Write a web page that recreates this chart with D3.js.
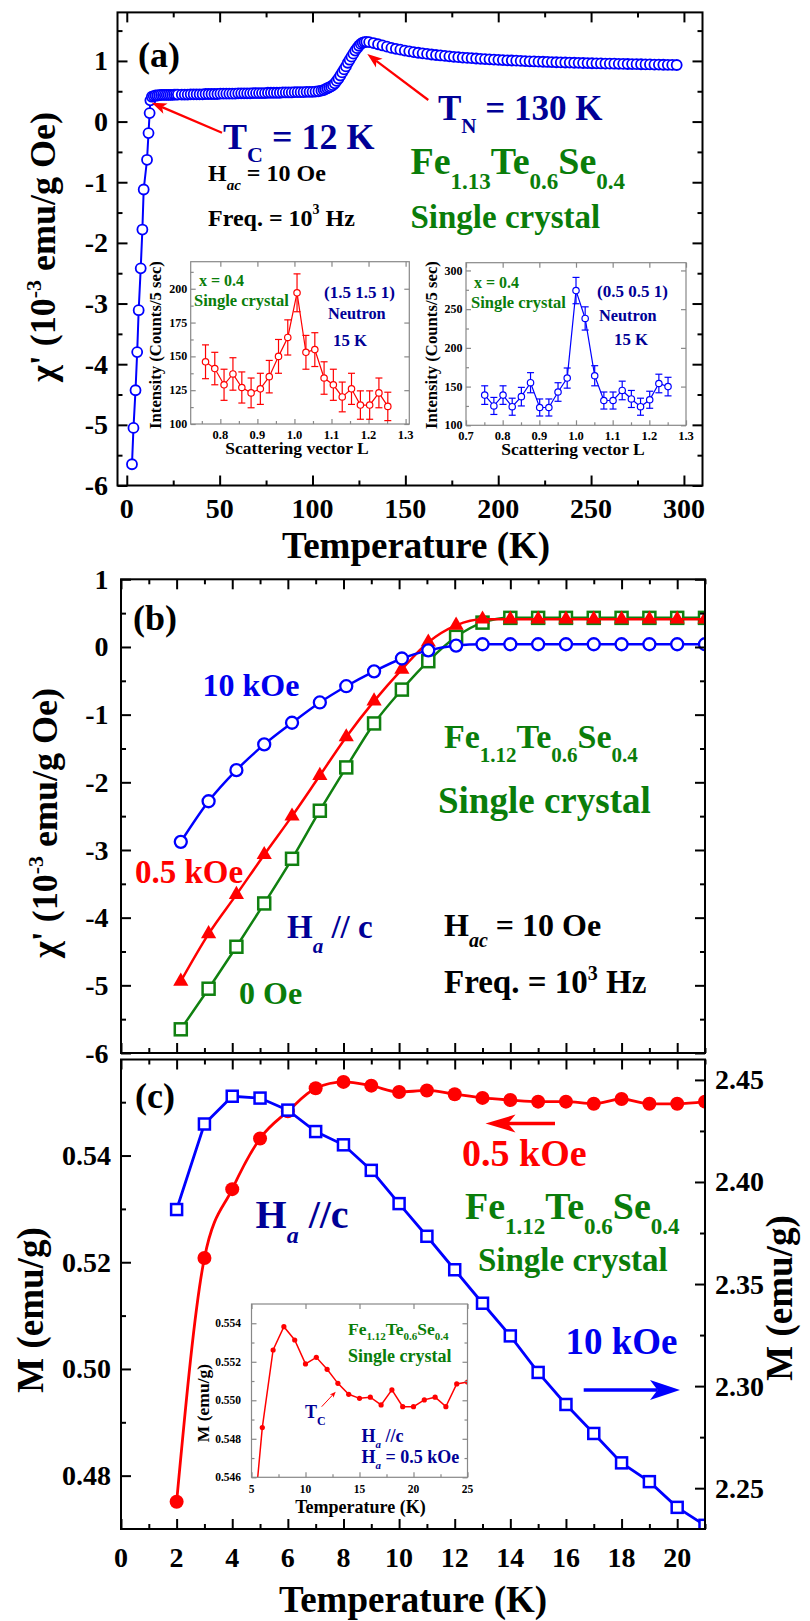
<!DOCTYPE html>
<html><head><meta charset="utf-8">
<script src="https://cdn.jsdelivr.net/npm/d3@7"></script>
</head>
<body style="margin:0;background:#fff"><svg id="c" width="810" height="1621"></svg>
<script>
// ---------------- DATA ----------------
// Panel (a): chi' vs T
const aTempLow = [2.8,3.6,4.7,5.6,6.4,7.5,8.4,9.1,10.9,11.7,12.3,12.7];
const aChiLow  = [-5.65,-5.05,-4.43,-3.8,-3.11,-2.42,-1.78,-1.12,-0.63,-0.19,0.14,0.35];
const aTempDense = [13.5,14.5,15.5,16.5,17.5,18.5,19.5,20.5,21.5,22.5,23.5,24.5,25.5,26.5,27.5];
const aChiDense  = [0.41,0.42,0.43,0.43,0.435,0.44,0.44,0.44,0.44,0.44,0.44,0.44,0.445,0.445,0.445];
const aTempMid = [29.6,31.2,32.8,34.4,36.0,37.6,39.2,40.8,
  42.4,44.0,45.6,47.2,48.8,50.4,52.0,53.6,
  55.2,56.8,58.4,60.0,61.6,63.2,64.8,66.4,
  68.0,69.6,71.2,72.8,74.4,76.0,77.6,79.2,
  80.8,82.4,84.0,85.6,87.2,88.8,90.4,92.0,
  93.6,95.2,96.8,98.4,100.0,101.6,103.2,104.8];
const aChiMid = [0.445,0.445,0.445,0.450,0.450,0.450,0.450,0.450,
  0.455,0.455,0.455,0.455,0.455,0.460,0.460,0.460,
  0.460,0.460,0.460,0.465,0.465,0.465,0.465,0.465,
  0.470,0.470,0.470,0.470,0.470,0.475,0.475,0.475,
  0.475,0.475,0.480,0.480,0.480,0.480,0.485,0.485,
  0.485,0.485,0.490,0.490,0.490,0.495,0.500,0.510];
const aTempRise = [106,107,108,109,110,111,112,113,
  114,115,116,117,118,119,120,121,
  122,123,124,125,126,127,128,129];
const aChiRise = [0.52,0.535,0.55,0.565,0.58,0.60,0.63,0.67,
  0.71,0.76,0.81,0.86,0.91,0.97,1.02,1.07,
  1.12,1.17,1.21,1.25,1.28,1.30,1.31,1.315];
const aTempHigh = [130.5,132.9,135.3,137.7,140.1,142.5,144.9,147.3,149.7,152.1,
  154.5,156.9,159.3,161.7,164.1,166.5,168.9,171.3,173.7,176.1,
  178.5,180.9,183.3,185.7,188.1,190.5,192.9,195.3,197.7,200.1,
  202.5,204.9,207.3,209.7,212.1,214.5,216.9,219.3,221.7,224.1,
  226.5,228.9,231.3,233.7,236.1,238.5,240.9,243.3,245.7,248.1,
  250.5,252.9,255.3,257.7,260.1,262.5,264.9,267.3,269.7,272.1,
  274.5,276.9,279.3,281.7,284.1,286.5,288.9,291.3,293.7,296.1];
const aChiHigh = [1.31,1.295,1.275,1.255,1.235,1.215,1.2,1.185,1.17,1.158,
  1.146,1.135,1.125,1.115,1.106,1.098,1.09,1.082,1.075,1.068,
  1.062,1.056,1.05,1.045,1.04,1.035,1.03,1.026,1.022,1.018,
  1.014,1.01,1.007,1.004,1.0,0.997,0.994,0.991,0.988,0.986,
  0.983,0.981,0.978,0.976,0.974,0.972,0.97,0.968,0.966,0.964,
  0.962,0.96,0.958,0.957,0.955,0.954,0.952,0.951,0.949,0.948,
  0.946,0.945,0.943,0.942,0.94,0.939,0.937,0.936,0.934,0.933];
const aXTicks = [0,50,100,150,200,250,300];
const aYTicks = [-6,-5,-4,-3,-2,-1,0,1];

// Inset (a) left: (1.5 1.5 1)
const in1L = [0.76,0.785,0.81,0.834,0.858,0.883,0.908,0.932,0.957,0.982,1.007,1.031,1.055,1.08,1.105,1.129,1.154,1.178,1.203,1.228,1.252];
const in1I = [146,141,129,137,127,123,126,135,150,164,197,153,155,134,129,120,126,114,114,123,113];
const in1E = [12.5,12,11.5,12,11.5,11,11.5,12,12.5,13,14,12.5,12.5,12,11.5,11,11.5,10.5,10.5,11,10.5];
const in1XTicks = [0.8,0.9,1.0,1.1,1.2,1.3];
const in1YTicks = [100,125,150,175,200];
// Inset (a) right: (0.5 0.5 1)
const in2L = [0.751,0.776,0.801,0.826,0.851,0.876,0.901,0.926,0.951,0.976,1.0,1.025,1.051,1.076,1.101,1.126,1.151,1.176,1.201,1.226,1.251];
const in2I = [139,125,139,124,137,155,123,123,143,161,274,238,164,132,132,145,134,124,133,154,150];
const in2E = [12,11,12,11,12,13,11,11,12,13,17,15,13,11,11,12,11,11,11,12,12];
const in2XTicks = [0.7,0.8,0.9,1.0,1.1,1.2,1.3];
const in2YTicks = [100,150,200,250,300];

// Panel (b)
const bTemp = [2.15,3.15,4.15,5.15,6.15,7.15,8.1,9.1,10.1,11.05,12.05,13,14,15,16,17,18,19,20,21];
const b10kOe = [-2.88,-2.28,-1.82,-1.44,-1.12,-0.82,-0.58,-0.36,-0.17,-0.05,0.02,0.04,0.04,0.04,0.04,0.04,0.04,0.04,0.04,0.04];
const b05kOe = [-4.94,-4.24,-3.66,-3.07,-2.5,-1.9,-1.33,-0.8,-0.33,0.07,0.32,0.41,0.41,0.41,0.41,0.41,0.41,0.41,0.41,0.41];
const b0Oe   = [-5.65,-5.05,-4.43,-3.79,-3.13,-2.42,-1.78,-1.13,-0.63,-0.21,0.15,0.36,0.43,0.43,0.43,0.43,0.43,0.43,0.43,0.43];
const bYTicks = [-6,-5,-4,-3,-2,-1,0,1];

// Panel (c)
const cTemp = [2,3,4,5,6,7,8,9,10,11,12,13,14,15,16,17,18,19,20,21];
const cM05kOe = [0.4751,0.5208,0.5337,0.5432,0.5483,0.5526,0.5538,0.5531,0.5519,0.5522,0.5515,0.5508,0.5504,0.5501,0.5501,0.5497,0.5506,0.5497,0.5497,0.5501];
const cM10kOe = [2.3865,2.4284,2.4420,2.4411,2.4352,2.4247,2.4182,2.4057,2.3894,2.3734,2.3570,2.3406,2.3246,2.3067,2.2910,2.2768,2.2624,2.2532,2.2406,2.2318];
const cXTicks = [0,2,4,6,8,10,12,14,16,18,20];
const cYLeftTicks = [0.48,0.50,0.52,0.54];
const cYRightTicks = [2.25,2.30,2.35,2.40,2.45];
// Inset (c)
const icTemp = [5,6,7,8,9,10,11,12,13,14,15,16,17,18,19,20,21,22,23,24,25];
const icM = [0.5425,0.54858,0.55261,0.55382,0.55313,0.55189,0.55223,0.55161,0.55088,0.55031,0.5501,0.55016,0.54976,0.55054,0.54967,0.54967,0.55002,0.55016,0.54967,0.55085,0.55095];
const icXTicks = [5,10,15,20,25];
const icYTicks = [0.546,0.548,0.550,0.552,0.554];

// ---------------- HELPERS ----------------
const FONT = '"Liberation Serif", "Times New Roman", Tinos, serif';
const svg = d3.select("#c").style("font-family",FONT).style("font-weight","bold");
const BLUE="#0000ff", RED="#ff0000", GREEN="#0a7d0a", NAVY="#000096", DATAGREEN="#108010";

function txt(g){ return g.append("text").style("font-family",FONT).style("font-weight","bold").style("white-space","pre"); }
function frame(g,x0,x1,y0,y1,color,w){
  g.append("rect").attr("x",x0).attr("y",y0).attr("width",x1-x0).attr("height",y1-y0)
   .attr("fill","none").attr("stroke",color).attr("stroke-width",w);
}
function ticks(g,axisFn,scale,tx,ty,values,len,color,w){
  const ax = axisFn(scale).tickValues(values).tickSize(-len).tickFormat("");
  const gg = g.append("g").attr("transform",`translate(${tx},${ty})`).call(ax);
  gg.select(".domain").remove();
  gg.selectAll("text").remove();
  gg.selectAll("line").attr("stroke",color).attr("stroke-width",w);
}
function xLabels(g,scale,values,y,size,fmt){
  values.forEach(v=>txt(g).attr("x",scale(v)).attr("y",y).attr("text-anchor","middle")
    .style("font-size",size+"px").text(fmt(v)));
}
function yLabels(g,scale,values,x,size,fmt,anchor){
  values.forEach(v=>txt(g).attr("x",x).attr("y",scale(v)+0.34*size).attr("text-anchor",anchor)
    .style("font-size",size+"px").text(fmt(v)));
}
function rich(g,x,y,parts,size,fill,opt){
  opt = opt||{};
  const t = txt(g).attr("fill",fill).style("font-size",size+"px");
  if(opt.rotate){ t.attr("transform",`translate(${x},${y}) rotate(-90)`).attr("text-anchor","middle"); }
  else { t.attr("x",x).attr("y",y); if(opt.anchor) t.attr("text-anchor",opt.anchor); }
  let cur=0;
  parts.forEach(p=>{
    const s=t.append("tspan").text(p.t);
    let off=0, fs=size;
    if(p.sub!==undefined){off=p.sub; fs=p.fs;}
    if(p.sup!==undefined){off=-p.sup; fs=p.fs;}
    s.attr("dy",off-cur).style("font-size",fs+"px");
    if(p.it) s.style("font-style","italic");
    cur=off;
  });
  return t;
}
function arrow(g,x1,y1,x2,y2,color,w,hl,hw){
  const dx=x2-x1, dy=y2-y1, L=Math.hypot(dx,dy), ux=dx/L, uy=dy/L, px=-uy, py=ux;
  const bx=x2-ux*hl, by=y2-uy*hl, nx=x2-ux*hl*0.75, ny=y2-uy*hl*0.75;
  g.append("line").attr("x1",x1).attr("y1",y1).attr("x2",nx).attr("y2",ny).attr("stroke",color).attr("stroke-width",w);
  g.append("path").attr("d",`M${x2},${y2}L${bx+px*hw},${by+py*hw}L${nx},${ny}L${bx-px*hw},${by-py*hw}Z`).attr("fill",color);
}
const fmt1 = d=>String(d);

// ---------------- PANEL (a) ----------------
{
  const g = svg.append("g");
  const x = d3.scaleLinear([-5,310],[117.5,702.5]);
  const y = d3.scaleLinear([-6,1.8],[485.5,12.4]);
  const T = aTempLow.concat(aTempDense,aTempMid,aTempRise,aTempHigh);
  const C = aChiLow.concat(aChiDense,aChiMid,aChiRise,aChiHigh);
  const pts = T.map((t,i)=>[t,C[i]]);
  g.append("path").attr("d",d3.line().x(d=>x(d[0])).y(d=>y(d[1]))(pts))
    .attr("fill","none").attr("stroke",BLUE).attr("stroke-width",2);
  g.selectAll("circle.a").data(pts).join("circle").attr("cx",d=>x(d[0])).attr("cy",d=>y(d[1])).attr("r",5)
    .attr("fill","#fff").attr("stroke",BLUE).attr("stroke-width",1.8);
  frame(g,117.5,702.5,12.4,485.5,"#000",2);
  const xMinor=[25,75,125,175,225,275], yMinor=[-5.5,-4.5,-3.5,-2.5,-1.5,-0.5,0.5,1.5];
  ticks(g,d3.axisBottom,x,0,485.5,aXTicks,10,"#000",2);
  ticks(g,d3.axisBottom,x,0,485.5,xMinor,5,"#000",2);
  ticks(g,d3.axisTop,x,0,12.4,aXTicks,10,"#000",2);
  ticks(g,d3.axisTop,x,0,12.4,xMinor,5,"#000",2);
  ticks(g,d3.axisLeft,y,117.5,0,aYTicks,10,"#000",2);
  ticks(g,d3.axisLeft,y,117.5,0,yMinor,5,"#000",2);
  ticks(g,d3.axisRight,y,702.5,0,aYTicks,10,"#000",2);
  ticks(g,d3.axisRight,y,702.5,0,yMinor,5,"#000",2);
  xLabels(g,x,aXTicks,518,28,fmt1);
  yLabels(g,y,aYTicks,108,28,fmt1,"end");
  rich(g,416,558,[{t:"Temperature (K)"}],37,"#000",{anchor:"middle"});
  rich(g,55,247,[{t:"χ' (10"},{t:"-3",sup:14,fs:22},{t:" emu/g Oe)"}],36,"#000",{rotate:true});

  rich(g,138,67,[{t:"(a)"}],36,"#000");
  rich(g,223,149,[{t:"T"},{t:"C",sub:12.5,fs:22},{t:" = 12 K"}],36,NAVY);
  rich(g,438,120,[{t:"T"},{t:"N",sub:13,fs:21},{t:" = 130 K"}],35,NAVY);
  rich(g,208,181,[{t:"H"},{t:"ac",sub:9,fs:15,it:true},{t:" = 10 Oe"}],24,"#000");
  rich(g,208,225.5,[{t:"Freq. = 10"},{t:"3",sup:12,fs:14},{t:" Hz"}],24,"#000");
  rich(g,410.5,174,[{t:"Fe"},{t:"1.13",sub:15,fs:23},{t:"Te"},{t:"0.6",sub:15,fs:23},{t:"Se"},{t:"0.4",sub:15,fs:23}],38,GREEN);
  rich(g,410.5,228,[{t:"Single crystal"}],33,GREEN);
  arrow(g,222,132.7,151.7,102.7,RED,2.2,15,5.5);
  arrow(g,428.3,100,367.3,54,RED,2.2,15,5.5);

  // insets
  function inset(cfg){
    const gi = g.append("g");
    const xi = d3.scaleLinear(cfg.xd,[cfg.x0,cfg.x1]);
    const yi = d3.scaleLinear(cfg.yd,[cfg.y1,cfg.y0]);
    gi.append("rect").attr("x",cfg.x0).attr("y",cfg.y0).attr("width",cfg.x1-cfg.x0).attr("height",cfg.y1-cfg.y0).attr("fill","#fff");
    frame(gi,cfg.x0,cfg.x1,cfg.y0,cfg.y1,"#888",1.2);
    ticks(gi,d3.axisBottom,xi,0,cfg.y1,cfg.xt,5,"#888",1.2);
    ticks(gi,d3.axisBottom,xi,0,cfg.y1,cfg.xm,3,"#888",1.2);
    ticks(gi,d3.axisTop,xi,0,cfg.y0,cfg.xt,5,"#888",1.2);
    ticks(gi,d3.axisLeft,yi,cfg.x0,0,cfg.yt,5,"#888",1.2);
    ticks(gi,d3.axisLeft,yi,cfg.x0,0,cfg.ym,3,"#888",1.2);
    ticks(gi,d3.axisRight,yi,cfg.x1,0,cfg.yt,5,"#888",1.2);
    xLabels(gi,xi,cfg.xt,cfg.y1+14.5,12.5,d=>d.toFixed(1));
    yLabels(gi,yi,cfg.yt,cfg.x0-3.5,12,fmt1,"end");
    rich(gi,(cfg.x0+cfg.x1)/2-3,cfg.y1+30,[{t:"Scattering vector L"}],17.5,"#000",{anchor:"middle"});
    rich(gi,cfg.tx,345,[{t:"Intensity (Counts/5 sec)"}],16.7,"#000",{rotate:true});
    const P = cfg.L.map((l,i)=>[l,cfg.I[i],cfg.E[i]]);
    gi.selectAll("g.eb").data(P).join("g").each(function(d){
      const s=d3.select(this), cx=xi(d[0]);
      s.append("line").attr("x1",cx).attr("x2",cx).attr("y1",yi(d[1]-d[2])).attr("y2",yi(d[1]+d[2])).attr("stroke",cfg.c).attr("stroke-width",1.2);
      [d[1]-d[2],d[1]+d[2]].forEach(v=>s.append("line").attr("x1",cx-3.5).attr("x2",cx+3.5).attr("y1",yi(v)).attr("y2",yi(v)).attr("stroke",cfg.c).attr("stroke-width",1.2));
    });
    gi.append("path").attr("d",d3.line().x(d=>xi(d[0])).y(d=>yi(d[1]))(P)).attr("fill","none").attr("stroke",cfg.c).attr("stroke-width",1.2);
    gi.selectAll("circle").data(P).join("circle").attr("cx",d=>xi(d[0])).attr("cy",d=>yi(d[1])).attr("r",3.2)
      .attr("fill","#fff").attr("stroke",cfg.c).attr("stroke-width",1.2);
    return gi;
  }
  const g1 = inset({x0:190.7,x1:409.3,y0:261.7,y1:424,xd:[0.72,1.31],yd:[100,220],xt:in1XTicks,xm:[0.75,0.85,0.95,1.05,1.15,1.25],
    yt:in1YTicks,ym:[112.5,137.5,162.5,187.5,212.5],L:in1L,I:in1I,E:in1E,c:RED,tx:161});
  rich(g1,199,285.5,[{t:"x = 0.4"}],16,GREEN);
  rich(g1,194,306,[{t:"Single crystal"}],16.5,GREEN);
  rich(g1,324,298,[{t:"(1.5 1.5 1)"}],17,NAVY);
  rich(g1,328,318.5,[{t:"Neutron"}],16.3,NAVY);
  rich(g1,333,346,[{t:"15 K"}],16.8,NAVY);
  const g2 = inset({x0:466,x1:686,y0:262.7,y1:425.3,xd:[0.7,1.3],yd:[100,310],xt:in2XTicks,xm:[0.75,0.85,0.95,1.05,1.15,1.25],
    yt:in2YTicks,ym:[125,175,225,275],L:in2L,I:in2I,E:in2E,c:BLUE,tx:437});
  rich(g2,474,287.5,[{t:"x = 0.4"}],16,GREEN);
  rich(g2,471,308,[{t:"Single crystal"}],16.5,GREEN);
  rich(g2,597,297,[{t:"(0.5 0.5 1)"}],17,NAVY);
  rich(g2,599,321,[{t:"Neutron"}],16.3,NAVY);
  rich(g2,614,344.5,[{t:"15 K"}],16.8,NAVY);
}

// ---------------- PANEL (b) ----------------
{
  const g = svg.append("g");
  const x = d3.scaleLinear([0,21],[121,705]);
  const y = d3.scaleLinear([-6,1],[1053,579.3]);
  svg.append("clipPath").attr("id","clipB").append("rect").attr("x",121).attr("y",579.3).attr("width",584).attr("height",473.7);
  const gd = g.append("g").attr("clip-path","url(#clipB)");
  const line = d3.line().curve(d3.curveMonotoneX).x(d=>x(d[0])).y(d=>y(d[1]));
  const P0 = bTemp.map((t,i)=>[t,b0Oe[i]]), P05 = bTemp.map((t,i)=>[t,b05kOe[i]]), P10 = bTemp.map((t,i)=>[t,b10kOe[i]]);
  gd.append("path").attr("d",line(P0)).attr("fill","none").attr("stroke",DATAGREEN).attr("stroke-width",2.5);
  gd.selectAll("rect.s").data(P0).join("rect").attr("x",d=>x(d[0])-6).attr("y",d=>y(d[1])-6).attr("width",12).attr("height",12)
    .attr("fill","#fff").attr("stroke",DATAGREEN).attr("stroke-width",2.5);
  gd.append("path").attr("d",line(P05)).attr("fill","none").attr("stroke",RED).attr("stroke-width",2.5);
  gd.selectAll("path.t").data(P05).join("path").attr("transform",d=>`translate(${x(d[0])},${y(d[1])})`)
    .attr("d",d3.symbol(d3.symbolTriangle,100)()).attr("fill",RED);
  gd.append("path").attr("d",line(P10)).attr("fill","none").attr("stroke",BLUE).attr("stroke-width",2.5);
  gd.selectAll("circle.c").data(P10).join("circle").attr("cx",d=>x(d[0])).attr("cy",d=>y(d[1])).attr("r",6)
    .attr("fill","#fff").attr("stroke",BLUE).attr("stroke-width",2.3);
  frame(g,121,705,579.3,1053,"#000",2);
  const xMinor=[1,3,5,7,9,11,13,15,17,19,21], yMinor=[-5.5,-4.5,-3.5,-2.5,-1.5,-0.5,0.5];
  ticks(g,d3.axisBottom,x,0,1053,cXTicks,10,"#000",2);
  ticks(g,d3.axisBottom,x,0,1053,xMinor,5,"#000",2);
  ticks(g,d3.axisTop,x,0,579.3,cXTicks,10,"#000",2);
  ticks(g,d3.axisTop,x,0,579.3,xMinor,5,"#000",2);
  ticks(g,d3.axisLeft,y,121,0,bYTicks,10,"#000",2);
  ticks(g,d3.axisLeft,y,121,0,yMinor,5,"#000",2);
  ticks(g,d3.axisRight,y,705,0,bYTicks,10,"#000",2);
  ticks(g,d3.axisRight,y,705,0,yMinor,5,"#000",2);
  yLabels(g,y,bYTicks,108.5,28,fmt1,"end");
  rich(g,57,823,[{t:"χ' (10"},{t:"-3",sup:14,fs:22},{t:" emu/g Oe)"}],36,"#000",{rotate:true});
  rich(g,133,630,[{t:"(b)"}],36,"#000");
  rich(g,202.5,696,[{t:"10 kOe"}],32,"#0000ee");
  rich(g,135,883,[{t:"0.5 kOe"}],33,RED);
  rich(g,287,938,[{t:"H"},{t:"a",sub:15,fs:21,it:true},{t:" // c"}],33,NAVY);
  rich(g,239,1004,[{t:"0 Oe"}],32,GREEN);
  rich(g,444,748,[{t:"Fe"},{t:"1.12",sub:13.5,fs:21},{t:"Te"},{t:"0.6",sub:13.5,fs:21},{t:"Se"},{t:"0.4",sub:13.5,fs:21}],34,GREEN);
  rich(g,438,813,[{t:"Single crystal"}],37,GREEN);
  rich(g,444,936,[{t:"H"},{t:"ac",sub:11,fs:20,it:true},{t:" = 10 Oe"}],32,"#000");
  rich(g,444,992.5,[{t:"Freq. = 10"},{t:"3",sup:13,fs:20},{t:" Hz"}],33,"#000");
}

// ---------------- PANEL (c) ----------------
{
  const g = svg.append("g");
  const x = d3.scaleLinear([0,21],[121,705]);
  const yL = d3.scaleLinear([0.47,0.558],[1529,1059.5]);
  const yR = d3.scaleLinear([2.23,2.46],[1529,1059.5]);
  svg.append("clipPath").attr("id","clipC").append("rect").attr("x",121).attr("y",1059.5).attr("width",584).attr("height",469.5);
  const gd = g.append("g").attr("clip-path","url(#clipC)");
  const PR = cTemp.map((t,i)=>[t,cM05kOe[i]]), PB = cTemp.map((t,i)=>[t,cM10kOe[i]]);
  gd.append("path").attr("d",d3.line().curve(d3.curveMonotoneX).x(d=>x(d[0])).y(d=>yL(d[1]))(PR))
    .attr("fill","none").attr("stroke",RED).attr("stroke-width",2.8);
  gd.selectAll("circle.r").data(PR).join("circle").attr("cx",d=>x(d[0])).attr("cy",d=>yL(d[1])).attr("r",7).attr("fill",RED);
  gd.append("path").attr("d",d3.line().x(d=>x(d[0])).y(d=>yR(d[1]))(PB))
    .attr("fill","none").attr("stroke",BLUE).attr("stroke-width",2.8);
  gd.selectAll("rect.b").data(PB).join("rect").attr("x",d=>x(d[0])-5.5).attr("y",d=>yR(d[1])-5.5).attr("width",11).attr("height",11)
    .attr("fill","#fff").attr("stroke",BLUE).attr("stroke-width",2.5);
  frame(g,121,705,1059.5,1529,"#000",2);
  const xMinor=[1,3,5,7,9,11,13,15,17,19,21];
  ticks(g,d3.axisBottom,x,0,1529,cXTicks,10,"#000",2);
  ticks(g,d3.axisBottom,x,0,1529,xMinor,5,"#000",2);
  ticks(g,d3.axisTop,x,0,1059.5,cXTicks,10,"#000",2);
  ticks(g,d3.axisTop,x,0,1059.5,xMinor,5,"#000",2);
  ticks(g,d3.axisLeft,yL,121,0,cYLeftTicks,10,"#000",2);
  ticks(g,d3.axisLeft,yL,121,0,[0.49,0.51,0.53,0.55],5,"#000",2);
  ticks(g,d3.axisRight,yR,705,0,cYRightTicks,10,"#000",2);
  ticks(g,d3.axisRight,yR,705,0,[2.275,2.325,2.375,2.425],5,"#000",2);
  xLabels(g,x,cXTicks,1567,28,fmt1);
  yLabels(g,yL,cYLeftTicks,111,28,d=>d.toFixed(2),"end");
  yLabels(g,yR,cYRightTicks,715,28,d=>d.toFixed(2),"start");
  rich(g,413,1612,[{t:"Temperature (K)"}],37,"#000",{anchor:"middle"});
  rich(g,43,1310,[{t:"M (emu/g)"}],37,"#000",{rotate:true});
  rich(g,792,1298,[{t:"M (emu/g)"}],37,"#000",{rotate:true});
  rich(g,135,1108,[{t:"(c)"}],36,"#000");
  rich(g,462,1165.5,[{t:"0.5 kOe"}],38,RED);
  arrow(g,555,1123.5,485.5,1123.5,RED,3.5,30,9);
  rich(g,255.5,1228,[{t:"H"},{t:"a",sub:15,fs:24,it:true},{t:" //c"}],40,NAVY);
  rich(g,465,1218.5,[{t:"Fe"},{t:"1.12",sub:15,fs:23},{t:"Te"},{t:"0.6",sub:15,fs:23},{t:"Se"},{t:"0.4",sub:15,fs:23}],38,GREEN);
  rich(g,478,1271,[{t:"Single crystal"}],33,GREEN);
  rich(g,565.5,1353.5,[{t:"10 kOe"}],37,"#0000ee");
  arrow(g,583.7,1390,680,1390,BLUE,3.5,30,10);

  // inset (c)
  const gi = g.append("g");
  const xi = d3.scaleLinear([5,25],[251.5,467.5]);
  const yi = d3.scaleLinear([0.546,0.555],[1477.3,1304]);
  gi.append("rect").attr("x",251.5).attr("y",1304).attr("width",216).attr("height",173.3).attr("fill","#fff");
  svg.append("clipPath").attr("id","clipI").append("rect").attr("x",251.5).attr("y",1304).attr("width",216).attr("height",173.3);
  const PI = icTemp.map((t,i)=>[t,icM[i]]);
  const gic = gi.append("g").attr("clip-path","url(#clipI)");
  gic.append("path").attr("d",d3.line().x(d=>xi(d[0])).y(d=>yi(d[1]))(PI)).attr("fill","none").attr("stroke",RED).attr("stroke-width",1.5);
  gic.selectAll("circle").data(PI).join("circle").attr("cx",d=>xi(d[0])).attr("cy",d=>yi(d[1])).attr("r",2.6).attr("fill",RED);
  frame(gi,251.5,467.5,1304,1477.3,"#888",1.2);
  ticks(gi,d3.axisBottom,xi,0,1477.3,icXTicks,5,"#888",1.2);
  ticks(gi,d3.axisBottom,xi,0,1477.3,[7.5,12.5,17.5,22.5],3,"#888",1.2);
  ticks(gi,d3.axisTop,xi,0,1304,icXTicks,5,"#888",1.2);
  ticks(gi,d3.axisLeft,yi,251.5,0,icYTicks,5,"#888",1.2);
  ticks(gi,d3.axisLeft,yi,251.5,0,[0.547,0.549,0.551,0.553],3,"#888",1.2);
  ticks(gi,d3.axisRight,yi,467.5,0,icYTicks,5,"#888",1.2);
  ticks(gi,d3.axisRight,yi,467.5,0,[0.547,0.549,0.551,0.553],3,"#888",1.2);
  xLabels(gi,xi,icXTicks,1493,11.5,fmt1);
  yLabels(gi,yi,icYTicks,241,11.5,d=>d.toFixed(3),"end");
  rich(gi,360.5,1513,[{t:"Temperature (K)"}],18,"#000",{anchor:"middle"});
  rich(gi,209,1403,[{t:"M (emu/g)"}],17.5,"#000",{rotate:true});
  rich(gi,348,1335,[{t:"Fe"},{t:"1.12",sub:5,fs:11},{t:"Te"},{t:"0.6",sub:5,fs:11},{t:"Se"},{t:"0.4",sub:5,fs:11}],17.5,GREEN);
  rich(gi,348,1361.5,[{t:"Single crystal"}],18,GREEN);
  rich(gi,305,1418,[{t:"T"},{t:"C",sub:7,fs:12}],18,NAVY);
  arrow(gi,321.7,1406.7,335.7,1391.7,RED,1,6,2.5);
  rich(gi,361.5,1441.5,[{t:"H"},{t:"a",sub:6,fs:11,it:true},{t:" //c"}],18,NAVY);
  rich(gi,361.5,1463,[{t:"H"},{t:"a",sub:6,fs:11,it:true},{t:" = 0.5 kOe"}],18,NAVY);
}
</script>
</body></html>
